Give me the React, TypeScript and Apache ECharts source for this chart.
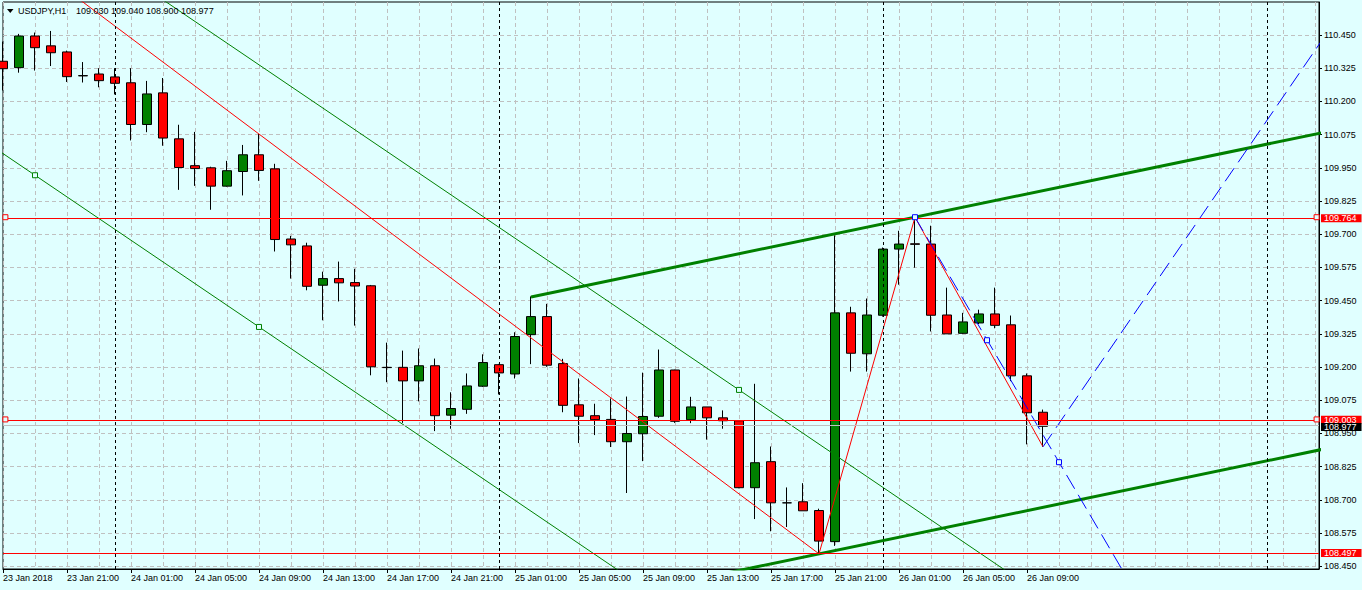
import React, { useEffect, useRef } from "react";
import * as echarts from "echarts";

const FONT = '"Liberation Sans", Arial, sans-serif';
const BG = "#e0ffff";
const SYMBOL = "USDJPY,H1";

// Hourly bars, index 0 = 23 Jan 2018 17:00 ... index 65 = 26 Jan 2018 10:00
const opens = [
  110.351, 110.327, 110.446, 110.409, 110.386, 110.297, 110.303, 110.292, 110.27, 110.113,
  110.232, 110.059, 109.958, 109.95, 109.881, 109.936, 109.999, 109.946, 109.682, 109.656,
  109.508, 109.533, 109.518, 109.506, 109.199, 109.199, 109.148, 109.205, 109.019, 109.041,
  109.128, 109.209, 109.174, 109.322, 109.39, 109.213, 109.058, 109.017, 109.003, 108.919,
  108.949, 109.015, 109.189, 109.002, 109.05, 109.009, 108.998, 108.746, 108.844, 108.689,
  108.693, 108.66, 108.543, 109.404, 109.25, 109.395, 109.644, 109.664, 109.663, 109.396,
  109.327, 109.366, 109.4, 109.359, 109.167, 109.03,
];
const highs = [
  110.425, 110.454, 110.459, 110.465, 110.391, 110.348, 110.325, 110.325, 110.325, 110.277,
  110.288, 110.112, 110.085, 109.954, 109.976, 110.036, 110.077, 109.965, 109.694, 109.668,
  109.559, 109.597, 109.57, 109.509, 109.292, 109.262, 109.27, 109.232, 109.105, 109.176,
  109.248, 109.212, 109.331, 109.466, 109.438, 109.231, 109.157, 109.062, 109.082, 109.089,
  109.179, 109.266, 109.19, 109.088, 109.05, 109.037, 109.0, 109.137, 108.901, 108.747,
  108.763, 108.667, 109.696, 109.427, 109.458, 109.65, 109.713, 109.764, 109.732, 109.499,
  109.404, 109.416, 109.499, 109.394, 109.176, 109.04,
];
const lows = [
  110.241, 110.308, 110.316, 110.333, 110.273, 110.271, 110.253, 110.226, 110.053, 110.084,
  110.033, 109.867, 109.882, 109.792, 109.879, 109.846, 109.901, 109.635, 109.533, 109.489,
  109.376, 109.447, 109.356, 109.169, 109.143, 108.99, 109.071, 108.959, 108.968, 109.024,
  109.125, 109.097, 109.157, 109.211, 109.201, 109.03, 108.914, 108.944, 108.899, 108.726,
  108.846, 109.009, 108.99, 108.989, 108.927, 108.968, 108.744, 108.628, 108.582, 108.598,
  108.659, 108.497, 108.527, 109.183, 109.183, 109.39, 109.51, 109.574, 109.334, 109.325,
  109.325, 109.362, 109.346, 109.147, 108.909, 108.9,
];
const closes = [
  110.323, 110.446, 110.402, 110.383, 110.293, 110.296, 110.278, 110.268, 110.113, 110.228,
  110.062, 109.951, 109.947, 109.881, 109.939, 109.999, 109.94, 109.68, 109.66, 109.504,
  109.533, 109.517, 109.505, 109.201, 109.198, 109.148, 109.205, 109.017, 109.044, 109.129,
  109.217, 109.178, 109.315, 109.39, 109.207, 109.056, 109.015, 109.002, 108.919, 108.95,
  109.014, 109.189, 108.996, 109.05, 109.009, 108.998, 108.746, 108.84, 108.689, 108.689,
  108.659, 108.545, 109.404, 109.252, 109.396, 109.644, 109.663, 109.662, 109.395, 109.325,
  109.37, 109.4, 109.357, 109.167, 109.028, 108.977,
];

const timeTickBars = [0, 4, 8, 12, 16, 20, 24, 28, 32, 36, 40, 44, 48, 52, 56, 60, 64];
const timeTickLabels = [
  "23 Jan 2018", "23 Jan 21:00", "24 Jan 01:00", "24 Jan 05:00", "24 Jan 09:00",
  "24 Jan 13:00", "24 Jan 17:00", "24 Jan 21:00", "25 Jan 01:00", "25 Jan 05:00",
  "25 Jan 09:00", "25 Jan 13:00", "25 Jan 17:00", "25 Jan 21:00", "26 Jan 01:00",
  "26 Jan 05:00", "26 Jan 09:00",
];
const priceTicks = [
  108.45, 108.575, 108.7, 108.825, 108.95, 109.075, 109.2, 109.325, 109.45,
  109.575, 109.7, 109.825, 109.95, 110.075, 110.2, 110.325, 110.45,
];

const periodSeparators = [7, 31, 55, 79];
const redLevels = [109.764, 109.003, 108.497];
const bidPrice = 108.977;
const levelMarkerBars = [0.15, 82.1];
const markedLevels = [109.764, 109.003];

const redTrendAnchors = [[16, 110.077], [51, 108.497]];
const channelLowerAnchors = [[2, 109.922], [16, 109.351]];
const channelUpperPoint = [46, 109.114];
const thickUpperAnchors = [[33, 109.464], [57, 109.764]];
const thickLowerPoint = [51, 108.497];
const zigzagPoints = [[51, 108.497], [57, 109.764], [65, 108.9]];
const blueDownAnchors = [[57, 109.764], [66, 108.842]];
const blueUpAnchors = [[65, 108.9], [78, 110.041]];
const greenMarkers = [[2, 109.922], [16, 109.351], [46, 109.114]];
const blueMarkers = [[57, 109.764], [61.5, 109.301], [66, 108.842]];

const X_MIN = 0;
const X_MAX = 82.25;
const Y_MIN = 108.44;
const Y_MAX = 110.574;

function slopeOf(a: number[], b: number[]) {
  return (b[1] - a[1]) / (b[0] - a[0]);
}
function lineThrough(p: number[], s: number, from: number, to: number) {
  return [
    [from, p[1] + s * (from - p[0])],
    [to, p[1] + s * (to - p[0])],
  ];
}

export default function App() {
  const ref = useRef<HTMLDivElement>(null);

  useEffect(() => {
    if (!ref.current) return;
    const chart = echarts.init(ref.current, undefined, { renderer: "svg" });

    const candles = opens.map((o, i) => [i, o, closes[i], lows[i], highs[i]]);
    const last = opens.length - 1;
    const ohlcText = [opens[last], highs[last], lows[last], closes[last]]
      .map((v) => v.toFixed(3))
      .join(" ");

    const sRed = slopeOf(redTrendAnchors[0], redTrendAnchors[1]);
    const sChan = slopeOf(channelLowerAnchors[0], channelLowerAnchors[1]);
    const sThick = slopeOf(thickUpperAnchors[0], thickUpperAnchors[1]);
    const sBlueDown = slopeOf(blueDownAnchors[0], blueDownAnchors[1]);
    const sBlueUp = slopeOf(blueUpAnchors[0], blueUpAnchors[1]);

    const lineS = (data: number[][], color: string, width: number, type: any = "solid", z = 4) => ({
      type: "line",
      xAxisIndex: 0,
      yAxisIndex: 0,
      data,
      symbol: "none",
      showSymbol: false,
      silent: true,
      clip: true,
      z,
      lineStyle: { color, width, type },
    });
    const markerS = (data: number[][], color: string) => ({
      type: "scatter",
      xAxisIndex: 0,
      yAxisIndex: 0,
      data,
      symbol: "rect",
      symbolSize: 5,
      silent: true,
      z: 6,
      itemStyle: { color: BG, borderColor: color, borderWidth: 1, opacity: 1 },
    });
    const priceLabel = (v: number, bg: string, dy = 0) => ({
      show: true,
      position: "end",
      distance: 2,
      offset: [0, dy],
      formatter: v.toFixed(3),
      backgroundColor: bg,
      color: "#ffffff",
      fontSize: 9,
      fontFamily: FONT,
      lineHeight: 8,
      padding: [0, 5, 0, 3],
    });

    const redMarkers: number[][] = [];
    markedLevels.forEach((v) => levelMarkerBars.forEach((k) => redMarkers.push([k, v])));

    const option: any = {
      animation: false,
      backgroundColor: BG,
      textStyle: { fontFamily: FONT },
      tooltip: { show: false },
      grid: {
        left: 3,
        right: 43,
        top: 2,
        bottom: 21,
        show: true,
        borderColor: "#000",
        borderWidth: 1,
        backgroundColor: "transparent",
        containLabel: false,
        outerBoundsMode: "none",
      },
      xAxis: [
        {
          type: "value",
          min: X_MIN,
          max: X_MAX,
          interval: 2,
          position: "bottom",
          axisLine: { show: true, onZero: false, lineStyle: { color: "#000", width: 1 } },
          axisTick: { show: false },
          axisLabel: { show: false },
          splitLine: { show: true, lineStyle: { color: "#c0c0c0", type: [4, 3], width: 1 } },
        },
        {
          type: "value",
          min: X_MIN,
          max: X_MAX,
          position: "bottom",
          axisLine: { show: false, onZero: false },
          axisTick: {
            show: true,
            length: 4,
            customValues: timeTickBars,
            lineStyle: { color: "#000", width: 1 },
          },
          axisLabel: {
            show: true,
            customValues: timeTickBars,
            formatter: (v: number) => {
              const i = timeTickBars.indexOf(Math.round(v));
              return i >= 0 ? timeTickLabels[i] : "";
            },
            align: "left",
            margin: 4,
            color: "#000",
            fontSize: 9,
            fontFamily: FONT,
          },
          splitLine: { show: false },
        },
      ],
      yAxis: {
        type: "value",
        min: Y_MIN,
        max: Y_MAX,
        position: "right",
        axisLine: { show: true, onZero: false, lineStyle: { color: "#000", width: 1 } },
        axisTick: {
          show: true,
          length: 3,
          customValues: priceTicks,
          lineStyle: { color: "#000", width: 1 },
        },
        axisLabel: {
          show: true,
          customValues: priceTicks,
          formatter: (v: number) => v.toFixed(3),
          color: "#000",
          fontSize: 9,
          fontFamily: FONT,
          margin: 5,
        },
        splitLine: { show: true, lineStyle: { color: "#c0c0c0", type: [4, 3], width: 1 } },
      },
      graphic: [
        {
          type: "polygon",
          shape: { points: [[7, 9], [13.5, 9], [10.25, 13]] },
          style: { fill: "#000" },
          z: 20,
          silent: true,
        },
        {
          type: "text",
          left: 18,
          top: 6,
          z: 20,
          silent: true,
          style: { text: SYMBOL, fill: "#000", font: `9px ${FONT}` },
        },
        {
          type: "text",
          left: 76,
          top: 6,
          z: 20,
          silent: true,
          style: { text: ohlcText, fill: "#000", font: `9px ${FONT}` },
        },
      ],
      series: [
        {
          type: "candlestick",
          xAxisIndex: 0,
          yAxisIndex: 0,
          data: candles,
          encode: { x: 0, y: [1, 2, 3, 4] },
          barWidth: 10,
          silent: true,
          clip: true,
          z: 2,
          itemStyle: {
            color: "#008000",
            color0: "#ff0000",
            borderColor: "#000",
            borderColor0: "#000",
            borderColorDoji: "#000",
            borderWidth: 1,
          },
          markLine: {
            silent: true,
            symbol: ["none", "none"],
            animation: false,
            data: [
              ...periodSeparators.map((k) => ({
                xAxis: k,
                lineStyle: { color: "#000", type: [3, 3], width: 1 },
                label: { show: false },
              })),
              ...redLevels.map((v) => ({
                yAxis: v,
                lineStyle: { color: "#ff0000", type: "solid", width: 1 },
                label: priceLabel(v, "#ff0000", v === 109.003 ? -0.5 : 0),
              })),
              {
                yAxis: bidPrice,
                lineStyle: { color: "#c0c0c0", type: "solid", width: 1 },
                label: priceLabel(bidPrice, "#000000", 1.5),
              },
            ],
          },
        },
        lineS(lineThrough(redTrendAnchors[1], sRed, 3, redTrendAnchors[1][0]), "#ff0000", 1),
        lineS(lineThrough(channelLowerAnchors[0], sChan, -2, 42), "#008000", 1),
        lineS(lineThrough(channelUpperPoint, sChan, 8, 66), "#008000", 1),
        lineS(lineThrough(thickUpperAnchors[0], sThick, thickUpperAnchors[0][0], 84), "#008000", 3),
        lineS(lineThrough(thickLowerPoint, sThick, 44, 84), "#008000", 3),
        lineS(zigzagPoints, "#ff0000", 1),
        lineS(lineThrough(blueDownAnchors[0], sBlueDown, blueDownAnchors[0][0], 72), "#0000ff", 1, [16, 7]),
        lineS(lineThrough(blueUpAnchors[0], sBlueUp, blueUpAnchors[0][0], 84), "#0000ff", 1, [16, 7]),
        markerS(greenMarkers, "#008000"),
        markerS(blueMarkers, "#0000ff"),
        markerS(redMarkers, "#ff0000"),
      ],
    };

    chart.setOption(option);
    return () => chart.dispose();
  }, []);

  return (
    <div
      ref={ref}
      style={{ position: "absolute", left: 0, top: 0, width: 1362, height: 590 }}
    />
  );
}
